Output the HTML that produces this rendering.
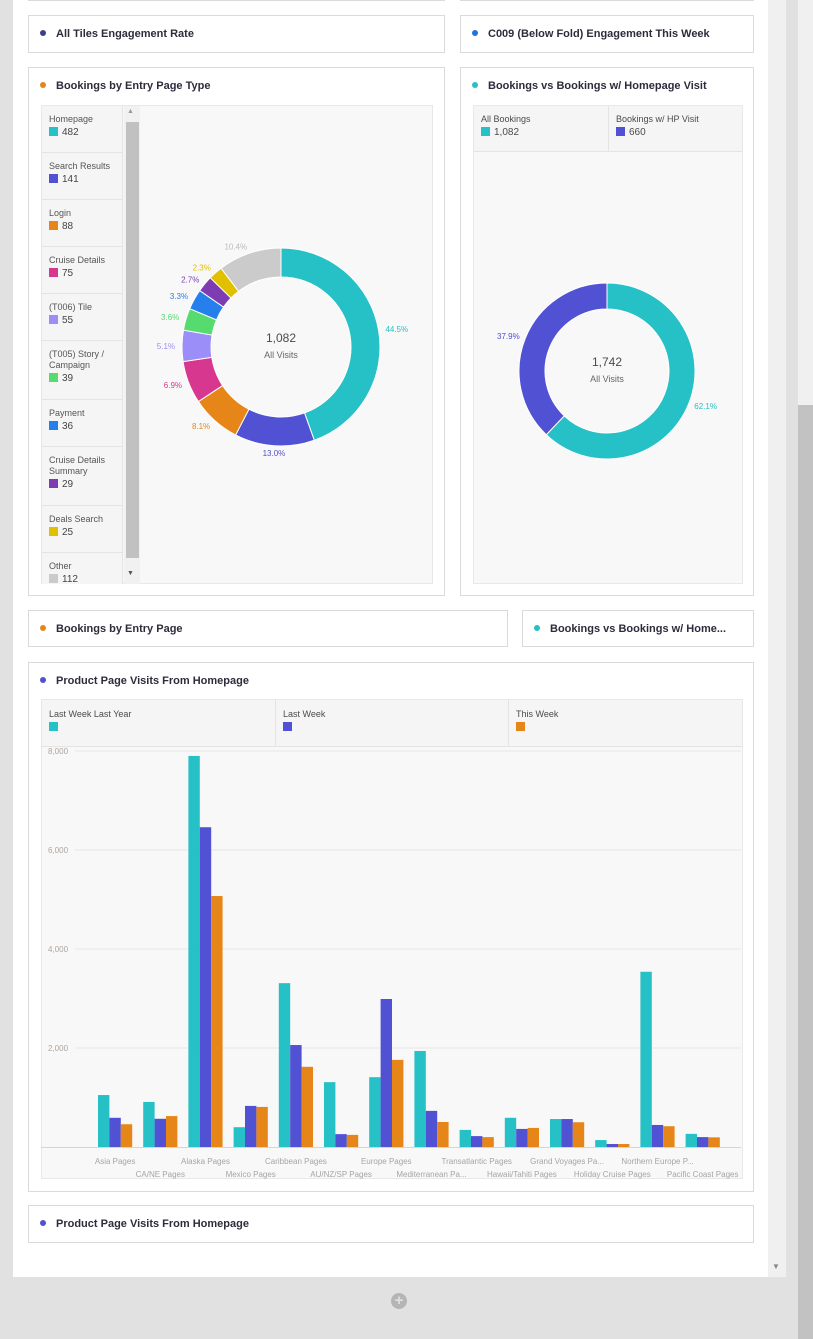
<!DOCTYPE html>
<html><head><meta charset="utf-8"><style>
*{box-sizing:border-box;margin:0;padding:0}
body{width:813px;height:1339px;background:#e1e1e1;font-family:"Liberation Sans",sans-serif;position:relative;overflow:hidden;color:#2c2c2c}
.abs{position:absolute}
.card{position:absolute;background:#fff;border:1px solid #dadada}
.title{position:absolute;left:27px;top:12px;font-size:11px;font-weight:bold;color:#2c2c3c;white-space:nowrap}
.dot{position:absolute;left:11px;top:14px;width:6px;height:6px;border-radius:50%}
.leg{position:absolute;font-size:9px;color:#4b4b4b}
.sw{display:inline-block;width:9px;height:9px;vertical-align:-1px;margin-right:4px}
.li{position:absolute;left:0;width:80px;border-bottom:1px solid #e4e4e4;padding:8px 0 0 7px;font-size:9px;color:#555;line-height:11px}
.li b{font-weight:normal;font-size:10px;color:#444;display:block;margin-top:2px}
</style></head><body>
<div class="abs" style="left:13px;top:0;width:755px;height:1277px;background:#fff"></div>
<div class="abs" style="left:768px;top:0;width:18px;height:1277px;background:#f0f0f0"></div>
<div class="abs" style="left:772px;top:1262px;font-size:8px;color:#888">▼</div>
<div class="abs" style="left:798px;top:0;width:15px;height:1339px;background:#f0f0f0"></div>
<div class="abs" style="left:798px;top:405px;width:15px;height:934px;background:#c2c2c2"></div>
<div class="abs" style="left:391px;top:1293px;width:16px;height:16px;border-radius:50%;background:#b5b5b5;color:#e1e1e1;font-size:15px;line-height:15px;text-align:center;font-weight:bold">+</div>

<div class="card" style="left:28px;top:-5px;width:417px;height:6px"></div>
<div class="card" style="left:460px;top:-5px;width:294px;height:6px"></div>

<div class="card" style="left:28px;top:15px;width:417px;height:38px"><div class="dot" style="background:#3e3e8f"></div><div class="title">All Tiles Engagement Rate</div></div>
<div class="card" style="left:460px;top:15px;width:294px;height:38px"><div class="dot" style="background:#1f73d9"></div><div class="title">C009 (Below Fold) Engagement This Week</div></div>

<div class="card" style="left:28px;top:67px;width:417px;height:529px">
<div class="dot" style="background:#e68619"></div><div class="title">Bookings by Entry Page Type</div>
<div class="abs" style="left:12px;top:37px;width:392px;height:479px;background:#f8f8f8;border:1px solid #e8e8e8"></div>
<div class="abs" style="left:13px;top:38px;width:81px;height:478px;background:#f5f5f5;border-right:1px solid #e4e4e4;overflow:hidden" id="leglist"></div>
<div class="abs" style="left:95px;top:38px;width:16px;height:478px;background:#f1f1f1"><div style="position:absolute;left:2px;top:16px;width:13px;height:436px;background:#c1c1c1"></div><div style="position:absolute;left:3px;top:2px;font-size:7px;color:#999">▲</div><div style="position:absolute;left:3px;top:464px;font-size:7px;color:#555">▼</div></div>
</div>

<div class="card" style="left:460px;top:67px;width:294px;height:529px">
<div class="dot" style="background:#26c0c7"></div><div class="title">Bookings vs Bookings w/ Homepage Visit</div>
<div class="abs" style="left:12px;top:37px;width:270px;height:479px;background:#f8f8f8;border:1px solid #e8e8e8"></div>
<div class="abs" style="left:13px;top:38px;width:268px;height:46px;background:#f5f5f5;border-bottom:1px solid #e4e4e4"></div>
<div class="leg" style="left:20px;top:46px">All Bookings<br><span class="sw" style="background:#26c0c7;margin-top:3px"></span><span style="font-size:10px">1,082</span></div>
<div class="abs" style="left:147px;top:38px;width:1px;height:46px;background:#e4e4e4"></div>
<div class="leg" style="left:155px;top:46px">Bookings w/ HP Visit<br><span class="sw" style="background:#5151d3;margin-top:3px"></span><span style="font-size:10px">660</span></div>
</div>

<svg class="abs" style="left:0;top:0" width="813" height="1339" id="donuts"></svg>

<div class="card" style="left:28px;top:610px;width:480px;height:37px"><div class="dot" style="background:#e68619"></div><div class="title">Bookings by Entry Page</div></div>
<div class="card" style="left:522px;top:610px;width:232px;height:37px"><div class="dot" style="background:#26c0c7"></div><div class="title">Bookings vs Bookings w/ Home...</div></div>

<div class="card" style="left:28px;top:662px;width:726px;height:530px">
<div class="dot" style="background:#5151d3"></div><div class="title">Product Page Visits From Homepage</div>
<div class="abs" style="left:12px;top:36px;width:702px;height:480px;background:#f8f8f8;border:1px solid #e8e8e8"></div>
<div class="abs" style="left:13px;top:37px;width:700px;height:47px;background:#f5f5f5;border-bottom:1px solid #e4e4e4"></div>
<div class="abs" style="left:246px;top:37px;width:1px;height:47px;background:#e4e4e4"></div>
<div class="abs" style="left:479px;top:37px;width:1px;height:47px;background:#e4e4e4"></div>
<div class="leg" style="left:20px;top:46px">Last Week Last Year<br><span class="sw" style="background:#26c0c7;margin-top:3px"></span></div>
<div class="leg" style="left:254px;top:46px">Last Week<br><span class="sw" style="background:#5151d3;margin-top:3px"></span></div>
<div class="leg" style="left:487px;top:46px">This Week<br><span class="sw" style="background:#e68619;margin-top:3px"></span></div>
</div>
<svg class="abs" style="left:0;top:0" width="813" height="1339" id="bars"></svg>

<div class="card" style="left:28px;top:1205px;width:726px;height:38px"><div class="dot" style="background:#5151d3"></div><div class="title">Product Page Visits From Homepage</div></div>

<script>
const NS="http://www.w3.org/2000/svg";
// Donut 1 data
const entryTypes=["Homepage","Search Results","Login","Cruise Details","(T006) Tile","(T005) Story / Campaign","Payment","Cruise Details Summary","Deals Search","Other"];
const entryValues=[482,141,88,75,55,39,36,29,25,112];
const entryColors=["#26c0c7","#5151d3","#e68619","#d83790","#9b8ef8","#55db6e","#2680eb","#7e3cb2","#e1c000","#cbcbcb"];
// Donut 2 data
const hpCats=["All Bookings","Bookings w/ HP Visit"];
const hpValues=[1082,660];
const hpColors=["#26c0c7","#5151d3"];
// Bar chart data
const barCats=["Asia Pages","CA/NE Pages","Alaska Pages","Mexico Pages","Caribbean Pages","AU/NZ/SP Pages","Europe Pages","Mediterranean Pa...","Transatlantic Pages","Hawaii/Tahiti Pages","Grand Voyages Pa...","Holiday Cruise Pages","Northern Europe P...","Pacific Coast Pages"];
const lastWeekLastYear=[1050,910,7900,400,3310,1310,1410,1940,345,590,565,140,3540,265];
const lastWeek=[590,570,6460,830,2060,260,2990,730,220,365,565,60,445,200];
const thisWeek=[460,625,5070,810,1620,245,1760,505,200,385,500,60,420,195];
const yTicks=[2000,4000,6000,8000];
const yTickLabels=["2,000","4,000","6,000","8,000"];

function mk(parent,tag,attrs){const e=document.createElementNS(NS,tag);for(const k in attrs)e.setAttribute(k,attrs[k]);parent.appendChild(e);return e;}

const ll=document.getElementById('leglist');
let ly=0;
entryTypes.forEach((n,i)=>{
  const d=document.createElement('div');
  d.className='li';
  
  
  const h=(n.length>15)?59:47;
  d.style.top=ly+'px';d.style.height=h+'px';
  d.innerHTML=n+'<b><span class="sw" style="background:'+entryColors[i]+'"></span>'+entryValues[i]+'</b>';
  ll.appendChild(d);ly+=h;
});

const ds=document.getElementById('donuts');
function donut(cx,cy,R,r,vals,cols,center,sub,lblR,name){
  const tot=vals.reduce((a,b)=>a+b,0);let a=0;
  vals.forEach((v,i)=>{
    const a0=a,a1=a+v/tot*2*Math.PI;a=a1;
    const p=(ang,rad)=>[cx+rad*Math.sin(ang),cy-rad*Math.cos(ang)];
    const big=(a1-a0)>Math.PI?1:0;
    const [x0,y0]=p(a0,R),[x1,y1]=p(a1,R),[x2,y2]=p(a1,r),[x3,y3]=p(a0,r);
    const path=mk(ds,'path',{d:`M${x0},${y0}A${R},${R} 0 ${big} 1 ${x1},${y1}L${x2},${y2}A${r},${r} 0 ${big} 0 ${x3},${y3}Z`,fill:cols[i],stroke:'#fff','stroke-width':1});
    
    
    const m=(a0+a1)/2;const [lx,ly2]=p(m,lblR);
    const pct=(v/tot*100).toFixed(1)+'%';
    const t=mk(ds,'text',{x:lx,y:ly2+3,'font-size':8,fill:cols[i]==='#cbcbcb'?'#bbb':cols[i],'text-anchor':Math.sin(m)>0.3?'start':(Math.sin(m)<-0.3?'end':'middle'),'font-family':'Liberation Sans'});
    t.textContent=pct;
    
    
  });
  const c=mk(ds,'text',{x:cx,y:cy-5,'font-size':12,fill:'#4b4b4b','text-anchor':'middle','font-family':'Liberation Sans'});c.textContent=center;
  
  
  const s=mk(ds,'text',{x:cx,y:cy+11,'font-size':9,fill:'#666','text-anchor':'middle','font-family':'Liberation Sans'});s.textContent=sub;
  
  
}
donut(281,347,99,70,entryValues,entryColors,'1,082','All Visits',106,'donut1');
donut(607,371,88,62,hpValues,hpColors,'1,742','All Visits',94,'donut2');

const bs=document.getElementById('bars');
const y0=1147,yTop=751,yMax=8000,xStart=92,band=45.2,bw=11.4;
const Y=v=>y0-(v/yMax)*(y0-yTop);
const X=i=>xStart+i*band+6;
yTicks.forEach((t,i)=>{
  const l=mk(bs,'line',{x1:75,x2:741,y1:Y(t),y2:Y(t),stroke:'#e6e6e6','stroke-width':1});
  
  
  const tx=mk(bs,'text',{x:48,y:Y(t)+3,'font-size':8,fill:'#b0a49a','font-family':'Liberation Sans'});tx.textContent=yTickLabels[i];
  
  
});
const base=mk(bs,'line',{x1:41,x2:741,y1:y0+0.5,y2:y0+0.5,stroke:'#d5d5d5','stroke-width':1});


const series=[lastWeekLastYear,lastWeek,thisWeek],scol=["#26c0c7","#5151d3","#e68619"];
barCats.forEach((c,i)=>{
  series.forEach((s,j)=>{
    const r=mk(bs,'rect',{x:X(i)+j*bw,y:Y(s[i]),width:bw,height:y0-Y(s[i]),fill:scol[j]});
    
    
  });
  const t=mk(bs,'text',{x:X(i)+1.5*bw,y:(i%2===0)?1164:1177,'font-size':8,fill:'#a5a5a5','text-anchor':'middle','font-family':'Liberation Sans'});
  t.textContent=c;
  
  
});
</script>
</body></html>
